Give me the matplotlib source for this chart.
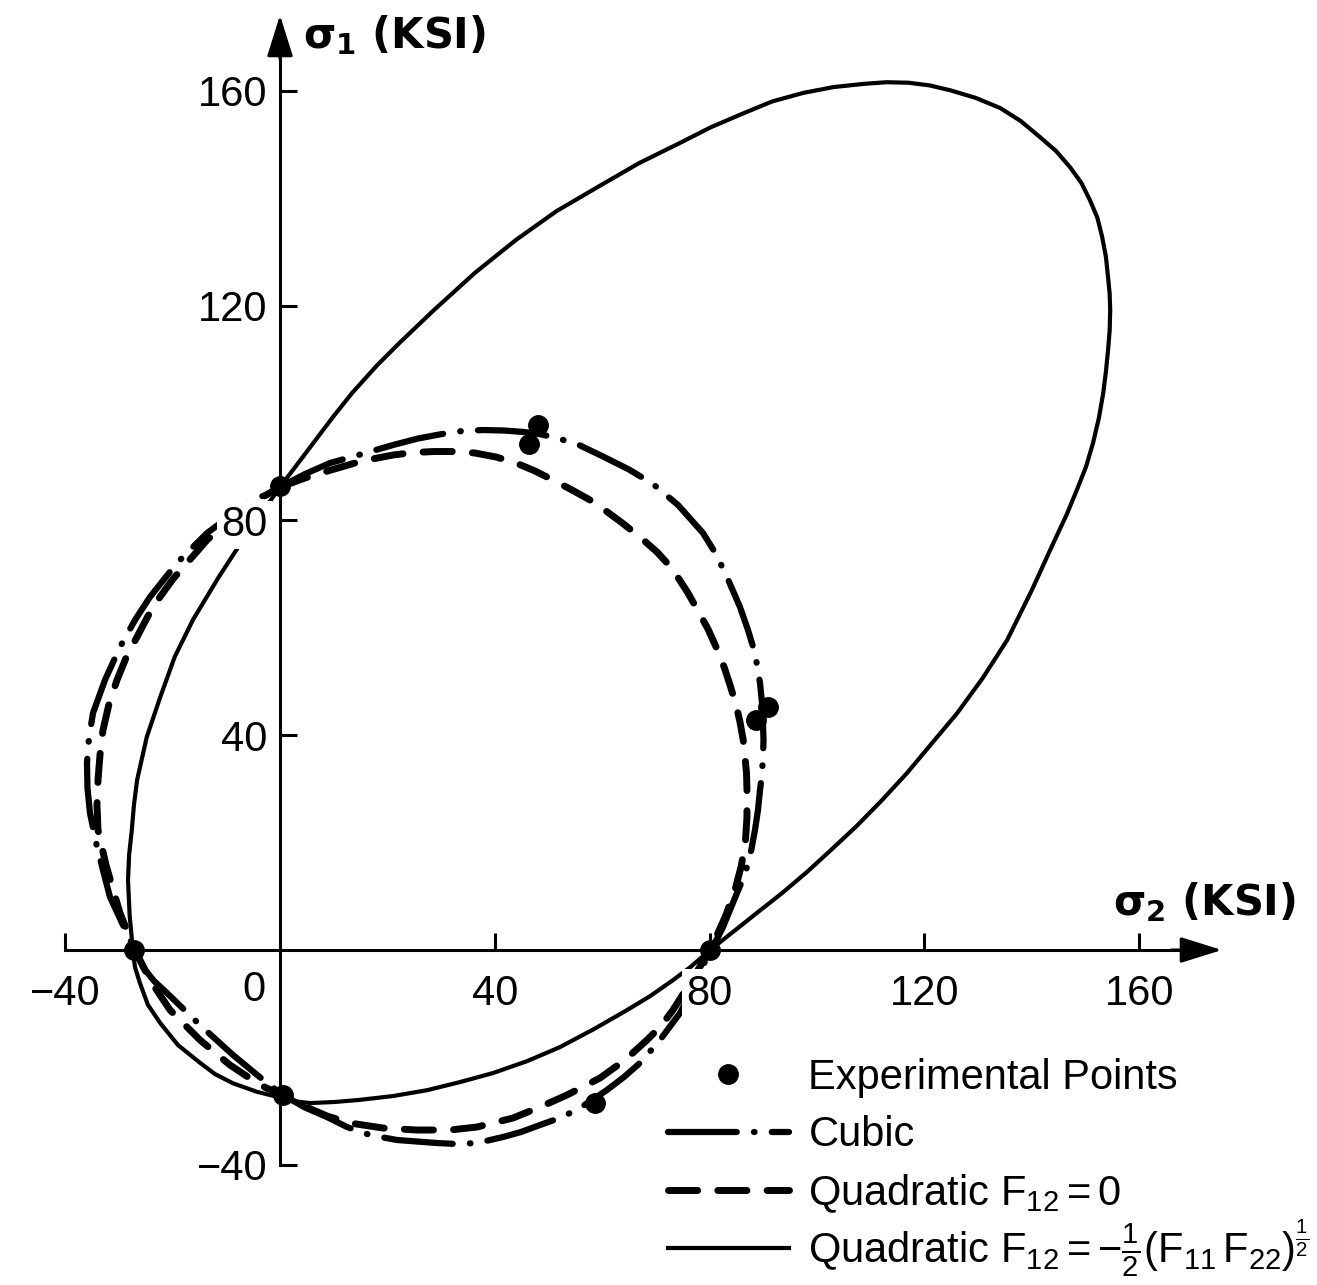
import matplotlib
matplotlib.use('Agg')
import matplotlib.pyplot as plt

plt.rcParams['font.family'] = ['Liberation Sans', 'DejaVu Sans']
plt.rcParams['mathtext.fontset'] = 'custom'
plt.rcParams['mathtext.rm'] = 'Liberation Sans'
plt.rcParams['mathtext.it'] = 'Liberation Sans'
plt.rcParams['mathtext.bf'] = 'Liberation Sans:bold'
plt.rcParams['mathtext.default'] = 'regular'

# failure envelopes, sigma_2 (x) vs sigma_1 (y), ksi
# quadratic with F12 = -1/2 (F11 F22)^1/2
quadint_s2 = [0, 9.9, 13.4, 18.0, 22.3, 28.7, 36.3, 43.9, 51.5, 59.2, 66.8, 74.5,
              80.2, 85.8, 91.6, 97.4, 103.1, 108.8, 113.0, 117.1, 121.0, 124.8,
              129.5, 134.1, 137.9, 141.5, 144.5, 147.1, 149.2, 150.8, 152.2, 153.1,
              153.8, 154.2, 154.5, 154.6, 154.5, 154.2, 153.8, 153.3, 152.5, 151.4,
              150.1, 148.4, 146.5, 144.3, 140.0, 135.4, 130.9, 126.1, 121.4, 116.8,
              112.1, 107.4, 102.8, 98.1, 93.5, 88.8, 84.4, 80.1, 76.4, 73.2, 68.9,
              64.6, 58.5, 52.1, 46.0, 39.7, 33.5, 27.4, 21.0, 14.9, 10.2, 5.6, 3.0,
              0.6, -4.3, -8.8, -12.1, -14.9, -19.0, -22.3, -24.6, -26.1, -27.0,
              -27.4, -28.0, -28.3, -28.1, -27.6, -27.2, -26.6, -24.8, -22.3, -19.6,
              -16.2, -11.5, -6.9, -3.4, 0]
quadint_s1 = [86.2, 99.3, 103.7, 108.8, 113.1, 119.2, 126.1, 132.2, 137.6, 142.1,
              146.5, 150.3, 153.2, 155.6, 158.0, 159.6, 160.7, 161.3, 161.6, 161.5,
              161.0, 160.1, 158.7, 156.8, 154.4, 151.4, 148.8, 145.8, 142.9, 139.7,
              136.4, 132.8, 129.1, 125.3, 122.2, 119.2, 115.4, 111.7, 107.7, 103.7,
              99.1, 94.4, 90.0, 85.7, 81.1, 76.4, 67.0, 57.7, 50.7, 44.1, 38.5, 33.0,
              27.9, 23.1, 18.8, 14.5, 10.6, 6.9, 3.4, 0, -3.2, -5.6, -8.6, -11.2,
              -14.7, -18.1, -20.7, -22.9, -24.6, -26.1, -27.2, -27.9, -28.3, -28.5,
              -28.2, -27.6, -26.4, -24.8, -23.1, -21.0, -17.7, -13.6, -10.2, -6.1,
              -3.2, 0, 6.5, 13.0, 17.7, 22.3, 27.0, 31.7, 39.7, 47.1, 54.6, 61.5,
              69.3, 76.4, 81.4, 86.2]

# quadratic with F12 = 0
quad0_s2 = [0, 4.66, 9.50, 15.27, 21.04, 24.77, 28.68, 32.59, 36.31, 40.22, 43.95,
            47.49, 50.84, 54.38, 57.73, 60.71, 63.50, 67.04, 70.20, 72.25, 73.93,
            75.98, 77.65, 79.70, 81.38, 82.77, 83.80, 84.92, 85.66, 86.26, 86.59,
            86.87, 86.96, 86.96, 86.96, 86.69, 85.94, 84.73, 83.05, 81.56, 80.07,
            76.72, 73.18, 70.95, 68.34, 64.25, 59.59, 53.45, 48.42, 43.39, 36.69,
            31.66, 25.51, 19.18, 13.04, 8.75, 4.66, 0.56, -3.72, -9.31, -14.90,
            -20.48, -24.21, -27.00, -29.80, -32.40, -33.89, -34.08, -33.89, -33.52,
            -32.96, -31.84, -30.35, -28.68, -26.63, -24.58, -22.35, -19.93, -17.32,
            -13.59, -6.52, 0]
quad0_s1 = [86.2, 87.90, 89.39, 91.06, 92.18, 92.64, 92.83, 92.83, 92.55, 91.81,
            90.69, 89.20, 87.52, 85.66, 83.80, 81.75, 79.70, 76.91, 74.12, 71.88,
            69.65, 66.48, 63.50, 59.78, 56.05, 52.51, 49.35, 45.72, 42.46, 39.11,
            35.94, 32.96, 29.80, 27.37, 24.77, 20.48, 15.83, 11.17, 6.52, 3.17, 0,
            -5.59, -11.17, -14.15, -16.76, -20.48, -23.84, -27.00, -29.24, -31.28,
            -32.96, -33.52, -33.52, -33.15, -32.22, -30.91, -29.14, -27.09, -25.14,
            -21.42, -16.76, -11.17, -5.59, 0, 6.89, 15.83, 22.35, 27.00, 31.66,
            36.31, 40.97, 45.81, 50.28, 54.38, 58.29, 62.20, 65.74, 69.09, 72.07,
            76.35, 82.50, 86.2]

# cubic
cubic_s2 = [0, 4.66, 9.31, 15.27, 21.04, 25.70, 30.17, 33.89, 37.80, 41.71, 45.44,
            48.23, 50.84, 55.31, 60.15, 64.99, 69.46, 74.12, 78.77, 81.19, 83.24,
            85.66, 87.15, 88.45, 89.39, 89.76, 89.94, 90.04, 89.94, 89.76, 89.39,
            89.01, 88.45, 87.80, 86.96, 86.13, 85.10, 83.80, 82.50, 81.38, 80.07,
            77.47, 74.49, 70.76, 67.04, 64.06, 60.89, 55.87, 52.33, 48.42, 44.88,
            41.53, 36.69, 32.96, 29.24, 21.79, 16.76, 12.48, 8.75, 4.47, 0.56,
            -2.42, -8.75, -14.90, -21.04, -23.46, -25.51, -27.00, -29.24, -31.66,
            -34.08, -35.38, -35.85, -35.94, -35.57, -34.82, -32.59, -29.80, -27.00,
            -24.21, -19.18, -13.59, -6.52, 0]
cubic_s1 = [86.2, 88.64, 90.69, 92.36, 94.04, 95.25, 96.09, 96.65, 96.83, 96.74,
            96.46, 96.09, 95.53, 94.23, 91.90, 89.48, 86.78, 82.87, 77.65, 73.74,
            69.46, 63.87, 59.59, 55.31, 49.72, 46.00, 42.27, 39.11, 35.94, 32.96,
            29.80, 26.07, 22.35, 18.81, 15.46, 13.04, 10.61, 7.45, 4.28, 2.05, 0,
            -5.96, -11.73, -16.76, -21.04, -23.65, -26.07, -29.42, -31.19, -32.59,
            -33.89, -34.82, -35.94, -36.13, -35.94, -35.38, -34.45, -32.96, -31.10,
            -29.24, -27.00, -24.77, -19.55, -13.97, -8.01, -5.77, -3.17, 0, 4.66,
            9.87, 19.18, 25.51, 30.17, 34.82, 39.48, 44.13, 50.28, 56.42, 61.45,
            65.74, 72.07, 77.65, 82.87, 86.2]

# experimental failure points
exp_s2 = [0, -27.2, 0.6, 80.1, 48.0, 46.4, 90.9, 88.6, 58.7]
exp_s1 = [86.5, 0, -27.0, 0, 97.8, 94.2, 45.3, 42.8, -28.5]

xticks = [-40, 40, 80, 120, 160]
yticks = [-40, 40, 80, 120, 160]
tick_text = [str(t).replace('-', '\u2212') for t in xticks]

fig = plt.figure(figsize=(13.17, 12.85), dpi=100)
ax = fig.add_axes([0, 0, 1, 1])
ax.set_xlim(-52.14, 193.11)
ax.set_ylim(-62.38, 176.91)

pts, = ax.plot(exp_s2, exp_s1, 'o', color='k', ms=14, zorder=4,
               label='Experimental Points')
cub, = ax.plot(cubic_s2, cubic_s1, color='k', lw=4.5, zorder=2,
               linestyle=(0, (11, 2.75, 0.1, 2.75)), dash_capstyle='round',
               label='Cubic')
q0, = ax.plot(quad0_s2, quad0_s1, color='k', lw=5.0, zorder=2,
              linestyle=(0, (4.2, 2.9)), dash_capstyle='round',
              label=r'Quadratic $F_{12}=0$')
qi, = ax.plot(quadint_s2, quadint_s1, color='k', lw=3.0, zorder=2,
              solid_joinstyle='round',
              label=r'Quadratic $F_{12}=-\frac{1}{2}(F_{11}\,F_{22})^{\frac{1}{2}}$')

# axes through the origin
ax.set_axisbelow(False)
for side in ['top', 'right']:
    ax.spines[side].set_visible(False)
ax.spines['left'].set_position(('data', 0))
ax.spines['bottom'].set_position(('data', 0))
ax.spines['left'].set_bounds(-40, 168)
ax.spines['bottom'].set_bounds(-40, 168)
for side in ['left', 'bottom']:
    ax.spines[side].set_linewidth(2.2)
    ax.spines[side].set_zorder(1)

label_box = dict(facecolor='white', edgecolor='none', pad=1)
ax.set_xticks(xticks)
ax.set_yticks(yticks)
ax.set_xticklabels(tick_text, bbox=label_box)
ax.set_yticklabels(tick_text, bbox=label_box)
ax.tick_params(direction='in', length=12, width=2.2, labelsize=30)
ax.tick_params(axis='x', pad=17)
ax.tick_params(axis='y', pad=9)

ax.text(-4.8, -7.4, '0', fontsize=30, ha='center', va='center')

arrow = dict(arrowstyle='-|>,head_length=1.6,head_width=0.5', mutation_scale=16,
             lw=2.2, color='k', shrinkA=0, shrinkB=0)
ax.annotate('', xy=(175.4, 0), xytext=(166, 0), arrowprops=arrow)
ax.annotate('', xy=(0, 174.1), xytext=(0, 166), arrowprops=arrow)

ax.text(4.3, 168.0, r'$\sigma_1$ (KSI)', fontsize=30, fontweight='bold',
        family=['DejaVu Sans'], ha='left', va='baseline')
ax.text(155.1, 6.5, r'$\sigma_2$ (KSI)', fontsize=30, fontweight='bold',
        family=['DejaVu Sans'], ha='left', va='baseline')

# legend: first three rows, then the taller formula row on its own
leg_kw = dict(frameon=False, fontsize=30, borderpad=0, borderaxespad=0,
              handlelength=2.9, handletextpad=0.47)
leg1 = ax.legend(handles=[pts, cub, q0], loc='upper left',
                 bbox_to_anchor=(668 / 1317, 1 - 1058 / 1285),
                 labelspacing=0.41, **leg_kw)
ax.add_artist(leg1)
ax.legend(handles=[qi], loc='center left',
          bbox_to_anchor=(668 / 1317, 1 - 1248 / 1285), **leg_kw)

fig.savefig('out.png', dpi=100)
